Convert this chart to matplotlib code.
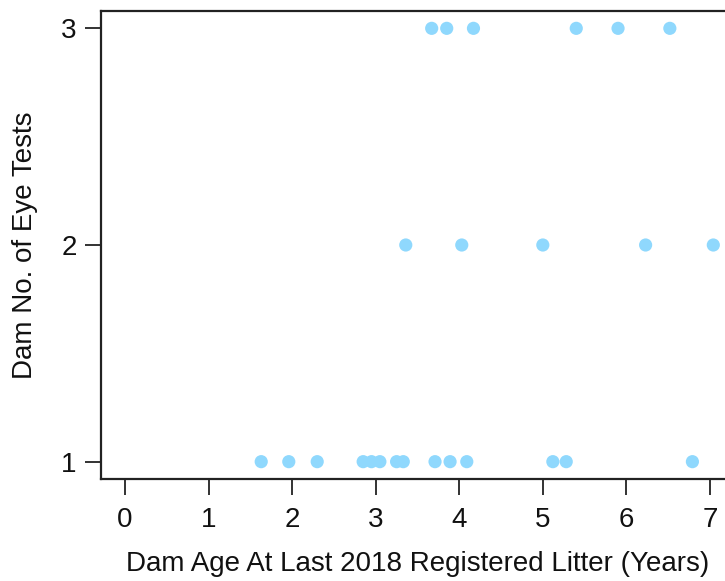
import matplotlib
matplotlib.use("Agg")
import matplotlib.pyplot as plt

plt.rcParams['font.family'] = ['Liberation Sans', 'DejaVu Sans']

# Dam age at last registered litter (years) and number of eye tests
age_one_test = [1.63, 1.96, 2.30, 2.85, 2.95, 3.05, 3.25, 3.33, 3.71, 3.89,
                4.09, 5.12, 5.28, 6.79]
age_two_tests = [3.36, 4.03, 5.00, 6.23, 7.04]
age_three_tests = [3.67, 3.85, 4.17, 5.40, 5.90, 6.52]

x_ticks = [0, 1, 2, 3, 4, 5, 6, 7]
y_ticks = [1, 2, 3]

ages = age_one_test + age_two_tests + age_three_tests
tests = ([1] * len(age_one_test) + [2] * len(age_two_tests)
         + [3] * len(age_three_tests))

W, H = 725, 581
fig = plt.figure(figsize=(W / 100, H / 100), dpi=100)
# plotting region (pixels): left 101, right 749 (runs past the edge), top 11, bottom 479
ax = fig.add_axes([101 / W, (H - 479) / H, (749 - 101) / W, (479 - 11) / H])

ax.scatter(ages, tests, s=90, color='#8fd8fd', edgecolors='none', zorder=3)

x_max = 7.18
ax.set_xlim(-0.04 * x_max, x_max * 1.04)
ax.set_ylim(1 - 0.08, 3 + 0.08)

ax.set_xticks(x_ticks)
ax.set_yticks(y_ticks)
ax.tick_params(axis='both', direction='out', length=11.5, width=1.3,
               color='#222222', labelsize=20, labelcolor='#111111')
ax.tick_params(axis='x', pad=9)
ax.tick_params(axis='y', pad=6)

for sp in ax.spines.values():
    sp.set_linewidth(1.6)
    sp.set_color('#222222')

fig.text(418 / W, 1 - 564 / H, 'Dam Age At Last 2018 Registered Litter (Years)',
         ha='center', va='center', fontsize=20, color='#111111')
fig.text(25 / W, 1 - 245 / H, 'Dam No. of Eye Tests', rotation=90,
         ha='center', va='center', fontsize=20, color='#111111')

fig.savefig('out.png', dpi=100)
